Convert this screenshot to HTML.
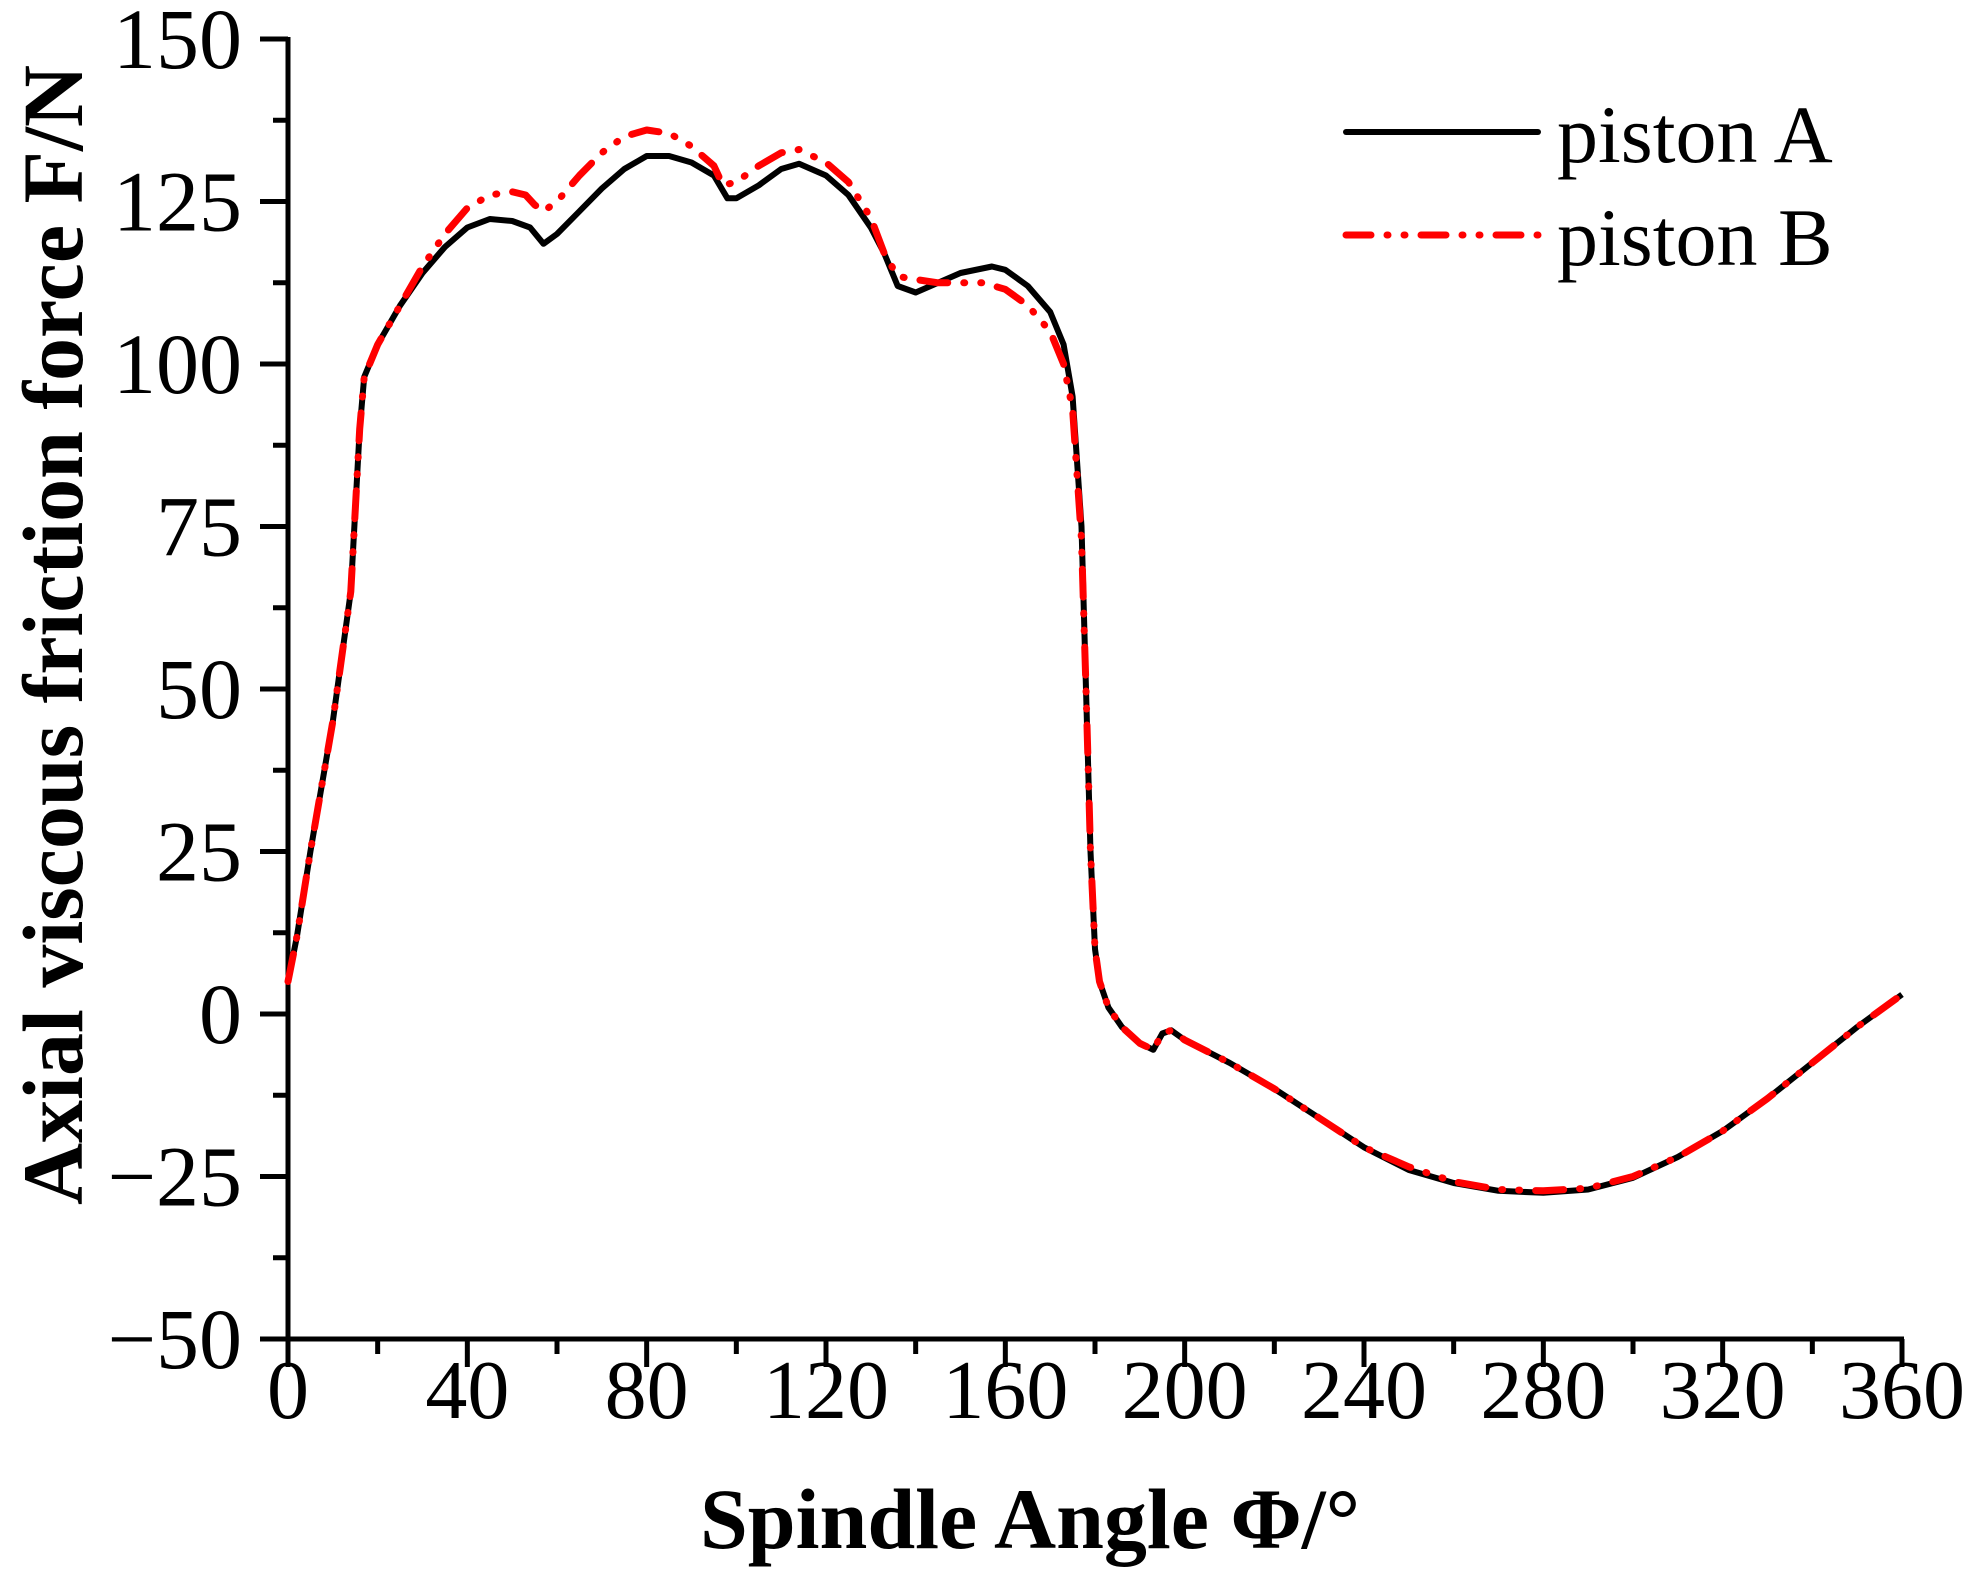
<!DOCTYPE html>
<html><head><meta charset="utf-8"><style>
html,body{margin:0;padding:0;background:#fff;}
svg{display:block;}
text{font-family:"Liberation Serif",serif;fill:#000;}
</style></head><body>
<svg id="chart" width="1975" height="1574" viewBox="0 0 1975 1574">
<g id="axes"></g>
<g id="series"></g>
<text transform="translate(82,635) rotate(-90)" text-anchor="middle" font-size="86" font-weight="bold">Axial viscous friction force F/N</text>
<text x="1030" y="1548" text-anchor="middle" font-size="86" font-weight="bold">Spindle Angle Φ/°</text>
<g>
<line x1="1346" y1="132" x2="1538" y2="132" stroke="#000" stroke-width="6" stroke-linecap="round"/>
<text x="1557" y="162" font-size="82">piston A</text>
<line x1="1346" y1="235" x2="1538" y2="235" stroke="#f00" stroke-width="7" stroke-linecap="round" stroke-dasharray="25 16 1 16 1 16"/>
<text x="1557" y="265" font-size="82">piston B</text>
</g>
</svg>
<script>
const xTicks = [0,40,80,120,160,200,240,280,320,360];
const yTicks = [-50,-25,0,25,50,75,100,125,150];
const angleA = [0,2,5,10,14,16,17,20,25,30,35,40,45,50,54,57,60,65,70,75,80,85,90,95,98,100,105,110,114,120,125,130,133,136,140,145,150,157,160,165,170,173,175,177,178,179,180,181,183,186,190,193,195,197,200,210,220,230,240,250,260,270,280,290,300,310,320,330,340,350,358,360];
const forceA = [5,12,25,45,65,90,98,103,109,114,118,121,122.3,122,121,118.5,120,123.5,127,130,132,132,131,129,125.5,125.5,127.5,130,130.8,129,126,121,117,112,111,112.5,114,115,114.5,112,108,103,95,75,50,25,10,5,1,-2,-4.5,-5.5,-3,-2.5,-4,-7.5,-11.5,-16,-20.5,-24,-26,-27.2,-27.5,-27,-25.2,-22,-18,-13,-7.5,-2,2,3];
const angleB = [0,2,5,10,14,16,17,20,25,30,35,40,45,50,53,55,57,60,65,70,75,80,85,90,95,97,100,105,110,114,120,125,130,133,136,140,145,150,155,160,165,170,173,175,177,178,179,180,181,183,186,190,193,195,197,200,210,220,230,240,250,260,270,280,290,300,310,320,330,340,350,358,360];
const forceB = [5,12,25,45,65,90,98,103,109,115,120,124,126,126.5,126,124.5,123.5,125,129,132.5,135,136,135.5,133.5,130.5,127.5,128,130.5,132.5,133,131,128,122.5,117,113.5,113,112.5,112.5,112.5,111.5,109,105,100,93,73,50,25,10,5,1,-2,-4.5,-5.5,-3,-2.5,-4,-7.5,-11.5,-16,-20.5,-23.5,-25.8,-27,-27.2,-26.8,-25,-22,-18,-13,-7.5,-2,2,3];

const X0=288,X1=1902,Y0=1339,Y1=39;
const xs=v=>X0+(v-0)/360*(X1-X0);
const ys=v=>Y0-(v+50)/200*(Y0-Y1);
const NS='http://www.w3.org/2000/svg';
const axes=document.getElementById('axes');
const series=document.getElementById('series');
function mk(tag,attrs,parent){const e=document.createElementNS(NS,tag);for(const k in attrs)e.setAttribute(k,attrs[k]);parent.appendChild(e);return e;}

let l=mk('line',{x1:X0,y1:Y1-2,x2:X0,y2:Y0+3,stroke:'#000','stroke-width':5},axes);


l=mk('line',{x1:X0-3,y1:Y0,x2:X1+2,y2:Y0,stroke:'#000','stroke-width':5},axes);



yTicks.forEach((v,i)=>{
  const t=mk('line',{x1:X0-28,y1:ys(v),x2:X0,y2:ys(v),stroke:'#000','stroke-width':5},axes);
  
  
  if(i<yTicks.length-1){
    const m=mk('line',{x1:X0-15,y1:ys(v+12.5),x2:X0,y2:ys(v+12.5),stroke:'#000','stroke-width':5},axes);
    
    
  }
  const tx=mk('text',{x:242,y:ys(v)+29,'text-anchor':'end','font-size':86},axes);
  tx.textContent=v<0?'\u2212'+Math.abs(v):String(v);
  
  
});
xTicks.forEach((v,i)=>{
  const t=mk('line',{x1:xs(v),y1:Y0,x2:xs(v),y2:Y0+28,stroke:'#000','stroke-width':5},axes);
  
  
  if(i<xTicks.length-1){
    const m=mk('line',{x1:xs(v+20),y1:Y0,x2:xs(v+20),y2:Y0+15,stroke:'#000','stroke-width':5},axes);
    
    
  }
  const tx=mk('text',{x:xs(v),y:1418,'text-anchor':'middle','font-size':84},axes);
  tx.textContent=String(v);
  
  
});

function pts(a,f){return a.map((v,i)=>xs(v).toFixed(1)+','+ys(f[i]).toFixed(1)).join(' ');}
const pa=mk('polyline',{points:pts(angleA,forceA),fill:'none',stroke:'#000','stroke-width':6,'stroke-linejoin':'round'},series);


const pb=mk('polyline',{points:pts(angleB,forceB),fill:'none',stroke:'#f00','stroke-width':7,'stroke-linecap':'round','stroke-linejoin':'round','stroke-dasharray':'28 16 1 16 1 16'},series);


</script>
</body></html>
